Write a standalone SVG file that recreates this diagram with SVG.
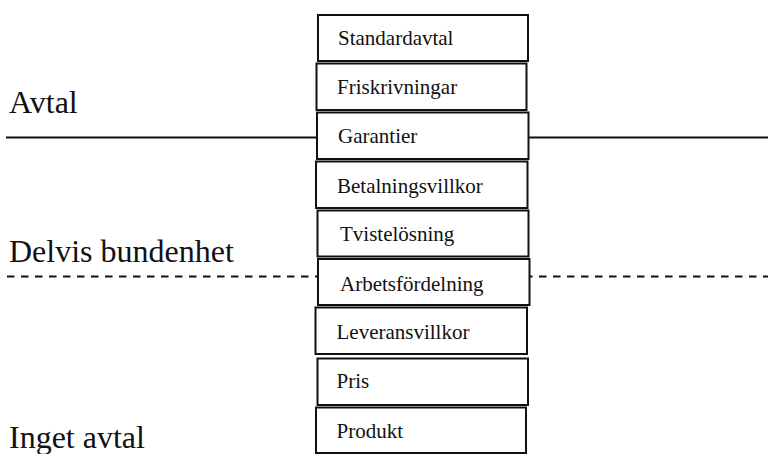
<svg xmlns="http://www.w3.org/2000/svg" width="768" height="454" viewBox="0 0 768 454">
<style>
.bg{fill:#ffffff}
.box rect{fill:#ffffff;stroke:#111111;stroke-width:2}
.box text{font-family:"Liberation Serif","Times New Roman",serif;font-size:21px;fill:#111111}
.lbl{font-family:"Liberation Serif","Times New Roman",serif;font-size:32px;fill:#111111}
.solid{stroke:#111111;stroke-width:2;fill:none}
.dash{stroke:#111111;stroke-width:2;fill:none;stroke-dasharray:7.5 6.5}
</style>
<rect class="bg" x="0" y="0" width="768" height="454"/>
<g id="connectors">
<line class="solid" x1="6" y1="137.5" x2="768" y2="137.5"/>
<line class="dash" x1="7" y1="276.5" x2="768" y2="276.5"/>
</g>
<g id="labels">
<text class="lbl" x="9" y="113">Avtal</text>
<text class="lbl" x="9" y="262">Delvis bundenhet</text>
<text class="lbl" x="9" y="448">Inget avtal</text>
</g>
<g id="n1" class="box"><rect x="318" y="15" width="210" height="46"/><text x="338" y="45">Standardavtal</text></g>
<g id="n2" class="box"><rect x="316.5" y="63.5" width="210" height="46.5"/><text x="337" y="94">Friskrivningar</text></g>
<g id="n3" class="box"><rect x="317" y="112.5" width="211.5" height="46.5"/><text x="338" y="143">Garantier</text></g>
<g id="n4" class="box"><rect x="316" y="161.5" width="211.5" height="46.5"/><text x="337" y="192.5">Betalningsvillkor</text></g>
<g id="n5" class="box"><rect x="317.5" y="210.5" width="211" height="46"/><text x="340" y="240.5">Tvistelösning</text></g>
<g id="n6" class="box"><rect x="318" y="259" width="211.5" height="46"/><text x="340" y="290.5">Arbetsfördelning</text></g>
<g id="n7" class="box"><rect x="315.5" y="307.5" width="211.5" height="46.5"/><text x="336.5" y="339">Leveransvillkor</text></g>
<g id="n8" class="box"><rect x="317.5" y="358.5" width="210.5" height="46.5"/><text x="336.5" y="388">Pris</text></g>
<g id="n9" class="box"><rect x="316" y="407.5" width="210" height="45.5"/><text x="336.5" y="438">Produkt</text></g>
</svg>
